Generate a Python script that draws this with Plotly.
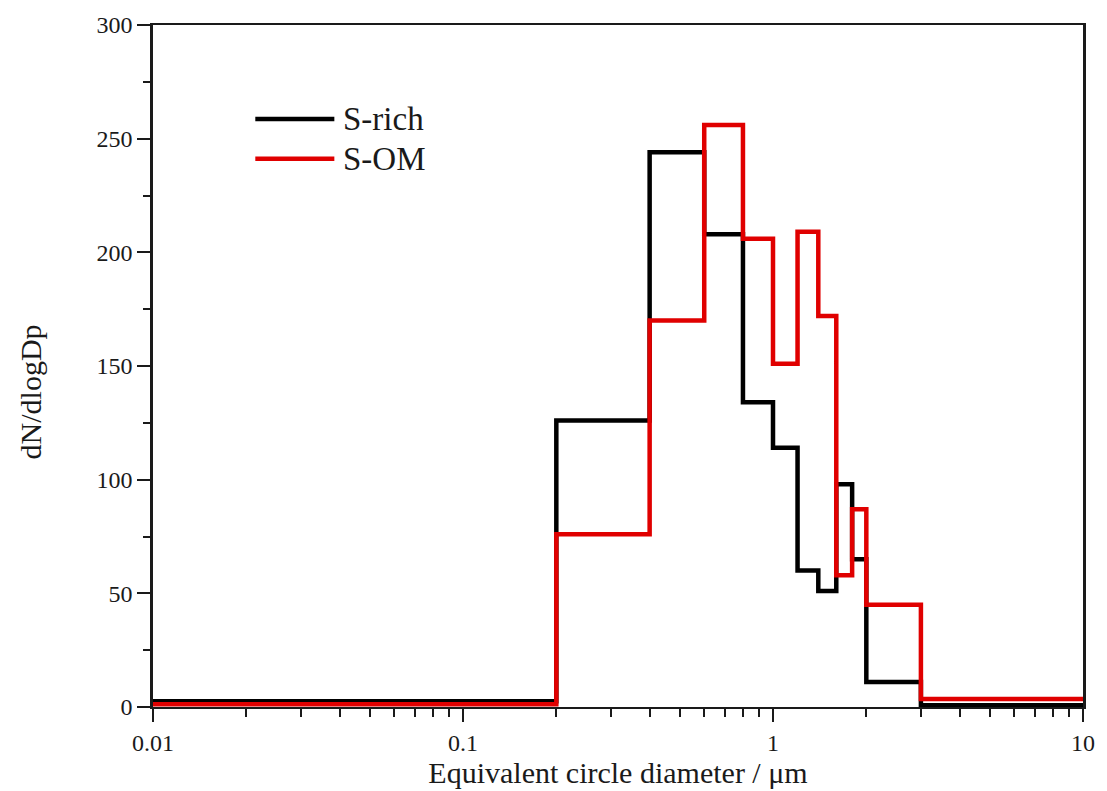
import plotly.graph_objects as go

# Bin edges (µm) and dN/dlogDp values per bin
bin_edges = [0.01, 0.2, 0.4, 0.6, 0.8, 1.0, 1.2, 1.4, 1.6, 1.8, 2.0, 3.0, 10.0]
s_rich = [2.5, 126, 244, 208, 134, 114, 60, 51, 98, 65, 11, 0.8]
s_om = [1.2, 76, 170, 256, 206, 151, 209, 172, 58, 87, 45, 3.5]

series_names = ["S-rich", "S-OM"]
series_colors = ["#000000", "#e00000"]

x_tickvals = [0.01, 0.1, 1, 10]
x_ticktext = ["0.01", "0.1", "1", "10"]
y_tickvals = [0, 50, 100, 150, 200, 250, 300]

FONT = "Liberation Serif, Times New Roman, serif"

fig = go.Figure()
for name, vals, col in zip(series_names, [s_rich, s_om], series_colors):
    fig.add_trace(go.Scatter(
        x=bin_edges, y=vals + [vals[-1]],
        mode="lines", line=dict(shape="hv", color=col, width=4.5),
        name=name, showlegend=False,
    ))

minor_x = [m * 10 ** e for e in (-2, -1, 0) for m in range(2, 10)]

fig.update_layout(
    width=1107, height=791,
    margin=dict(l=153, r=20, t=23, b=82),
    paper_bgcolor="white", plot_bgcolor="white",
    font=dict(family=FONT, size=24, color="#1a1a1a"),
    xaxis=dict(
        type="log", range=[-2, 1],
        tickmode="array", tickvals=x_tickvals, ticktext=x_ticktext,
        ticks="outside", ticklen=13, tickwidth=2, tickcolor="#1a1a1a",
        minor=dict(tickmode="array", tickvals=minor_x, ticks="outside",
                   ticklen=8, tickwidth=2, tickcolor="#1a1a1a"),
        showline=True, linecolor="#1a1a1a", linewidth=2, mirror=True,
        showgrid=False, zeroline=False,
        title=dict(text="Equivalent circle diameter / μm",
                   font=dict(size=30), standoff=2),
        tickfont=dict(size=24),
    ),
    yaxis=dict(
        range=[0, 300],
        tickmode="array", tickvals=y_tickvals,
        ticks="outside", ticklen=13, tickwidth=2, tickcolor="#1a1a1a",
        minor=dict(dtick=25, ticks="outside", ticklen=7, tickwidth=2,
                   tickcolor="#1a1a1a"),
        showline=True, linecolor="#1a1a1a", linewidth=2.5, mirror=True,
        showgrid=False, zeroline=False,
        tickfont=dict(size=24),
    ),
)

# Y-axis title placed as in the reference (slightly below centre)
fig.add_annotation(x=-0.1317, y=0.462, xref="paper", yref="paper",
                   text="dN/dlogDp", textangle=-90, showarrow=False,
                   xanchor="center", yanchor="middle",
                   font=dict(size=30, color="#1a1a1a"))

# Legend drawn manually (long line samples like the reference)
legend_y = [0.862, 0.804]
for name, col, ly in zip(series_names, series_colors, legend_y):
    fig.add_shape(type="line", xref="paper", yref="paper",
                  x0=0.110, x1=0.195, y0=ly, y1=ly,
                  line=dict(color=col, width=4.5))
    fig.add_annotation(x=0.202, y=ly, xref="paper", yref="paper",
                       text=name, showarrow=False, xanchor="left",
                       yanchor="middle", font=dict(size=33, color="#1a1a1a"))

fig.write_html("out.html")
